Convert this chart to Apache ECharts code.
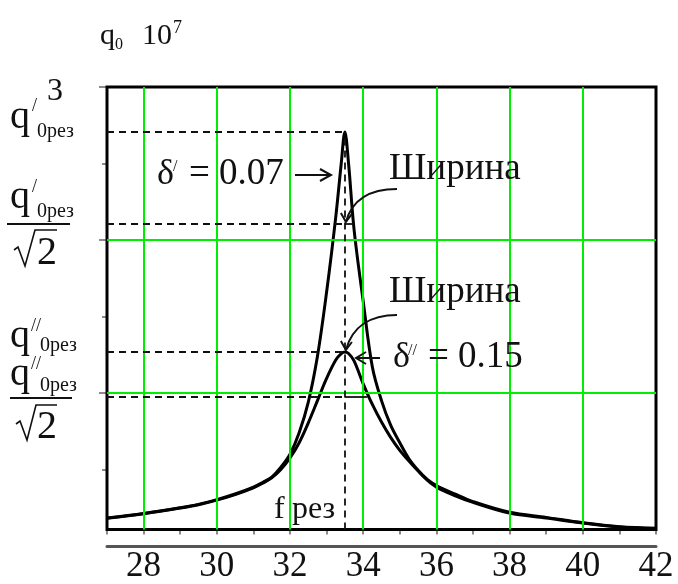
<!DOCTYPE html>
<html>
<head>
<meta charset="utf-8">
<script src="https://cdn.jsdelivr.net/npm/echarts@6/dist/echarts.min.js"></script>
<style>html,body{margin:0;padding:0;background:#fff}#c{width:678px;height:584px}</style>
</head>
<body>
<div id="c"></div>
<script>
// ---- data ----
const freq    = [27, 28, 29, 29.5, 30, 30.5, 31, 31.25, 31.5, 31.75, 32, 32.25, 32.5, 32.75, 33, 33.25, 33.4, 33.5, 33.6, 33.75, 34, 34.25, 34.5, 34.75, 35, 35.25, 35.5, 35.75, 36, 36.5, 37, 38, 39, 40, 41, 42];
const qNarrow = [0.183, 0.213, 0.25, 0.272, 0.303, 0.34, 0.385, 0.415, 0.45, 0.515, 0.6, 0.74, 0.94, 1.24, 1.66, 2.15, 2.5, 2.706, 2.5, 2.07, 1.6, 1.17, 0.95, 0.79, 0.675, 0.57, 0.495, 0.435, 0.395, 0.34, 0.29, 0.22, 0.187, 0.152, 0.126, 0.116];
const qWide   = [0.181, 0.211, 0.248, 0.27, 0.3, 0.336, 0.38, 0.41, 0.445, 0.5, 0.575, 0.675, 0.805, 0.95, 1.095, 1.215, 1.257, 1.268, 1.258, 1.21, 1.06, 0.925, 0.81, 0.71, 0.625, 0.555, 0.49, 0.43, 0.385, 0.33, 0.285, 0.215, 0.183, 0.15, 0.124, 0.114];
const xTickLabels = [28, 30, 32, 34, 36, 38, 40, 42];
const yTickLabels = ['3'];
const yTickValues = [1, 2, 3];
const gridXValues = [28, 30, 32, 34, 36, 38, 40];
const gridYValues = [1, 2];
const fRes = 33.5;
const peakLevels = [2.706, 1.268];
const halfLevels = [2.105, 0.974];
const halfRightEnds = [33.75, 34.12];
const boxBottom = 0.108;
const xMin = 27, xMax = 42, yMin = 0, yMax = 3;

const FONT = '"Liberation Serif", "Times New Roman", serif';
const GREEN = '#00ee00';
const chart = echarts.init(document.getElementById('c'), null, {renderer: 'canvas'});

const greenLines = [];
gridXValues.forEach(x => greenLines.push([{coord: [x, boxBottom]}, {coord: [x, yMax]}]));
gridYValues.forEach(y => greenLines.push([{coord: [xMin, y]}, {coord: [xMax, y]}]));

const dashed = [];
peakLevels.forEach(y => dashed.push([{coord: [xMin, y]}, {coord: [fRes, y]}]));
halfLevels.forEach(y => dashed.push([{coord: [xMin, y]}, {coord: [fRes, y]}]));
dashed.push([{coord: [fRes, boxBottom]}, {coord: [fRes, peakLevels[0]]}]);
const solidSeg = halfLevels.map((y, i) => [{coord: [fRes, y]}, {coord: [halfRightEnds[i], y]}]);

chart.setOption({
  animation: false,
  grid: {left: 107, right: 22, top: 87, bottom: 38},
  xAxis: [{
    type: 'value', min: xMin, max: xMax, interval: 1,
    axisLine: {onZero: false, lineStyle: {color: '#555', width: 3}},
    axisTick: {show: false},
    splitLine: {show: false},
    axisLabel: {
      margin: 3, fontFamily: FONT, fontSize: 35, color: '#111',
      formatter: v => xTickLabels.indexOf(v) >= 0 ? String(v) : ''
    }
  }, {
    type: 'value', min: xMin, max: xMax, interval: 1, position: 'bottom', offset: -16.5,
    axisLine: {show: false, onZero: false},
    axisTick: {show: true, length: 5, lineStyle: {color: '#666', width: 1.5}},
    axisLabel: {show: false},
    splitLine: {show: false}
  }],
  yAxis: {
    type: 'value', min: yMin, max: yMax, interval: 1,
    axisLine: {show: false},
    axisTick: {show: true, length: 8, customValues: yTickValues, lineStyle: {color: '#666', width: 1.5}},
    minorTick: {show: true, splitNumber: 2, length: 5, lineStyle: {color: '#666', width: 1.5}},
    splitLine: {show: false},
    axisLabel: {show: false}
  },
  series: [{
    type: 'line', data: [], z: 1, silent: true,
    markLine: {silent: true, symbol: ['none', 'none'], label: {show: false},
      lineStyle: {color: GREEN, width: 2, type: 'solid'}, data: greenLines}
  }, {
    type: 'line', data: [], z: 2, silent: true,
    markLine: {silent: true, symbol: ['none', 'none'], label: {show: false},
      lineStyle: {color: '#111', width: 1.8, type: [7, 5]}, data: dashed}
  }, {
    type: 'line', data: [], z: 2, silent: true,
    markLine: {silent: true, symbol: ['none', 'none'], label: {show: false},
      lineStyle: {color: '#111', width: 1.8, type: 'solid'}, data: solidSeg}
  }, {
    type: 'line', z: 3, showSymbol: false, smooth: 0.35, silent: true,
    lineStyle: {color: '#000', width: 3},
    data: freq.map((f, i) => [f, qNarrow[i]])
  }, {
    type: 'line', z: 3, showSymbol: false, smooth: 0.35, silent: true,
    lineStyle: {color: '#000', width: 3},
    data: freq.map((f, i) => [f, qWide[i]])
  }, {
    type: 'line', data: [], z: 4, silent: true,
    markArea: {silent: true, itemStyle: {color: 'rgba(0,0,0,0)', borderColor: '#000', borderWidth: 3},
      data: [[{coord: [xMin, boxBottom]}, {coord: [xMax, yMax]}]]}
  }]
});

function T(x, base, text, size, align) {
  return {type: 'text', x: x, y: base - 0.34 * size, z: 10, silent: true,
    style: {text: text, font: size + 'px ' + FONT, fill: '#111',
      align: align || 'left', textAlign: align || 'left', verticalAlign: 'middle', textVerticalAlign: 'middle'}};
}
function L(points, w) {
  return {type: 'polyline', z: 10, silent: true, shape: {points: points},
    style: {stroke: '#111', lineWidth: w || 2, fill: null}};
}
function B(p0, c1, c2, p1) {
  return {type: 'bezierCurve', z: 10, silent: true,
    shape: {x1: p0[0], y1: p0[1], cpx1: c1[0], cpy1: c1[1], cpx2: c2[0], cpy2: c2[1], x2: p1[0], y2: p1[1]},
    style: {stroke: '#111', lineWidth: 2, fill: null}};
}
const P = (x, y) => chart.convertToPixel({seriesIndex: 3}, [x, y]);

const tipUp = P(fRes, halfLevels[0]);
const tipLow = P(fRes, peakLevels[1]);
const topLeft = P(xMin, yMax);

const g = [];
// y tick label "3"
g.push(T(topLeft[0] - 44, topLeft[1] + 15, yTickLabels[0], 32, 'right'));
// header q0 10^7
g.push(T(100, 46, 'q', 30), T(115, 50, '0', 16), T(142, 46, '10', 30), T(173, 34, '7', 18));
// q'0рез
g.push(T(10, 131, 'q', 40), T(32, 112, '/', 18), T(37, 139, '0рез', 20));
// q'0рез / √2
g.push(T(10, 211, 'q', 40), T(32, 193, '/', 18), T(37, 219, '0рез', 20));
g.push(L([[7, 224], [70, 224]], 2));
g.push(L([[14, 250], [18, 247], [25, 266], [35, 230], [57, 230]], 1.6));
g.push(T(37, 267, '2', 40));
// q''0рез
g.push(T(10, 350, 'q', 40), T(31, 332, '//', 18), T(40, 353, '0рез', 20));
// q''0рез / √2
g.push(T(10, 388, 'q', 40), T(31, 370, '//', 18), T(40, 393, '0рез', 20));
g.push(L([[10, 398], [72, 398]], 2));
g.push(L([[16, 424], [20, 421], [27, 440], [36, 405], [57, 405]], 1.6));
g.push(T(37, 441, '2', 40));
// δ' = 0.07 →
g.push(T(157, 187, 'δ', 36), T(173, 172, '/', 16), T(189, 187, '= 0.07', 37));
g.push(L([[295, 175], [330, 175]], 2), L([[320, 169], [331, 175], [320, 181]], 2));
// Ширина upper
g.push(T(389, 182, 'Ширина', 37));
g.push(B([397, 189], [370, 189], [352, 200], [tipUp[0] + 1, tipUp[1] - 2]));
g.push(L([[tipUp[0] - 4, tipUp[1] - 11], [tipUp[0] + 1, tipUp[1] - 2], [tipUp[0] + 7, tipUp[1] - 10]], 2));
// Ширина lower
g.push(T(389, 305, 'Ширина', 37));
g.push(B([397, 315], [370, 315], [352, 327], [tipLow[0] + 1, tipLow[1] - 2]));
g.push(L([[tipLow[0] - 4, tipLow[1] - 11], [tipLow[0] + 1, tipLow[1] - 2], [tipLow[0] + 7, tipLow[1] - 10]], 2));
// δ'' = 0.15 ←
g.push(T(393, 370, 'δ', 36), T(408, 356, '//', 16), T(428, 370, '= 0.15', 37));
g.push(L([[380, 358], [356, 358]], 2), L([[366, 352], [356, 358], [366, 364]], 2));
// f рез
g.push(T(274, 520, 'f', 32), T(292, 520, 'рез', 32));

chart.setOption({graphic: {elements: g}});
</script>
</body>
</html>
